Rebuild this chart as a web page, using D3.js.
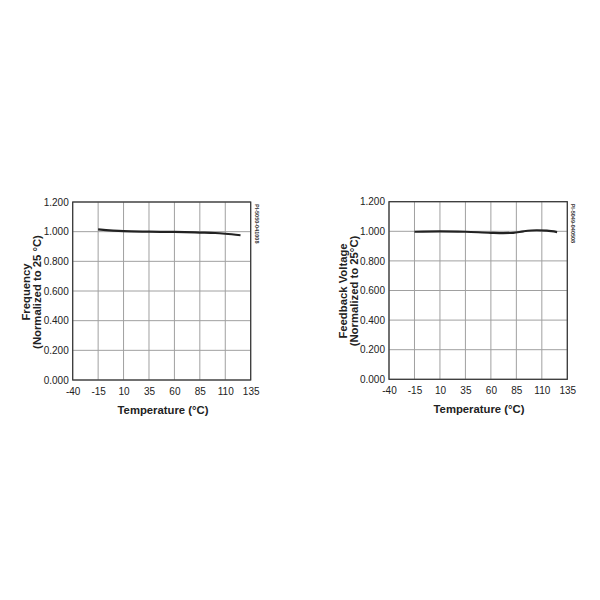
<!DOCTYPE html>
<html><head><meta charset="utf-8">
<script src="https://cdn.jsdelivr.net/npm/d3@7"></script>
<style>body{margin:0;background:#fff}svg{display:block}</style>
</head><body>
<script>
const xTicks = [-40, -15, 10, 35, 60, 85, 110, 135];
const yTicks = [0, 0.2, 0.4, 0.6, 0.8, 1.0, 1.2];
const freqTemp = [-15, 10, 35, 60, 85, 100, 110, 125];
const freqVals = [1.015, 1.003, 1.0, 0.998, 0.994, 0.991, 0.986, 0.976];
const fbTemp = [-15, 10, 35, 60, 72, 82, 92, 105, 115, 125];
const fbVals = [0.997, 1.0, 0.997, 0.99, 0.988, 0.99, 1.0, 1.007, 1.004, 0.995];

const FONT = "Liberation Sans, Arial, sans-serif";
const svg = d3.select("body").append("svg").attr("width", 600).attr("height", 600);

function chart(cfg) {
  const g = svg.append("g");
  const x = d3.scaleLinear().domain([-40, 135]).range([cfg.left, cfg.right]);
  const y = d3.scaleLinear().domain([0, 1.2]).range([cfg.bottom, cfg.top]);
  g.selectAll(".vg").data(xTicks).join("line")
    .attr("x1", d => x(d)).attr("x2", d => x(d)).attr("y1", y(0)).attr("y2", y(1.2))
    .attr("stroke", "#a0a0a0").attr("stroke-width", 1);
  g.selectAll(".hg").data(yTicks).join("line")
    .attr("x1", x(-40)).attr("x2", x(135)).attr("y1", d => y(d)).attr("y2", d => y(d))
    .attr("stroke", "#a0a0a0").attr("stroke-width", 1);
  g.append("rect").attr("x", x(-40)).attr("y", y(1.2))
    .attr("width", x(135) - x(-40)).attr("height", y(0) - y(1.2))
    .attr("fill", "none").attr("stroke", "#333").attr("stroke-width", 1.2);
  const xa = d3.axisBottom(x).tickValues(xTicks).tickFormat(d => String(d)).tickSize(0).tickPadding(8);
  const xg = g.append("g").attr("transform", `translate(0,${y(0)})`).call(xa);
  xg.select(".domain").remove();
  xg.selectAll("text").attr("font-family", FONT).attr("font-size", 10).attr("fill", "#222");
  const ya = d3.axisLeft(y).tickValues(yTicks).tickFormat(d3.format(".3f")).tickSize(0).tickPadding(4);
  const yg = g.append("g").attr("transform", `translate(${x(-40)},0)`).call(ya);
  yg.select(".domain").remove();
  yg.selectAll("text").attr("font-family", FONT).attr("font-size", 10).attr("fill", "#222");
  const data = cfg.t.map((t, i) => [t, cfg.v[i]]);
  g.append("path").datum(data)
    .attr("d", d3.line().x(d => x(d[0])).y(d => y(d[1])).curve(d3.curveMonotoneX))
    .attr("fill", "none").attr("stroke", "#222").attr("stroke-width", 2.2);
  g.append("text").attr("x", cfg.xtc).attr("y", cfg.bottom + 34)
    .attr("text-anchor", "middle").attr("font-family", FONT)
    .attr("font-weight", "bold").attr("font-size", 11.3).attr("fill", "#222").text("Temperature (°C)");
  cfg.ytitle.forEach((s, i) => {
    g.append("text").attr("transform", `translate(${cfg.ytx[i]},${cfg.ycenter}) rotate(-90)`)
      .attr("text-anchor", "middle").attr("font-family", FONT)
      .attr("font-weight", "bold").attr("font-size", 11.3).attr("fill", "#222").text(s);
  });
  g.append("text").attr("transform", `translate(${cfg.right + 4},${cfg.top + 2}) rotate(90)`)
    .attr("font-family", FONT).attr("font-weight", "bold")
    .attr("font-size", 5.5).attr("fill", "#333").text(cfg.code);
}

chart({left: 72.7, right: 250.7, top: 202, bottom: 380, t: freqTemp, v: freqVals, xtc: 163,
  ytitle: ["Frequency", "(Normalized to 25 °C)"], ytx: [30, 41], ycenter: 292, code: "PI-5050-041008"});
chart({left: 389, right: 567.3, top: 201.7, bottom: 379.3, t: fbTemp, v: fbVals, xtc: 479,
  ytitle: ["Feedback Voltage", "(Normalized to 25°C)"], ytx: [347, 358], ycenter: 291, code: "PI-5049-040508"});
</script>
</body></html>
